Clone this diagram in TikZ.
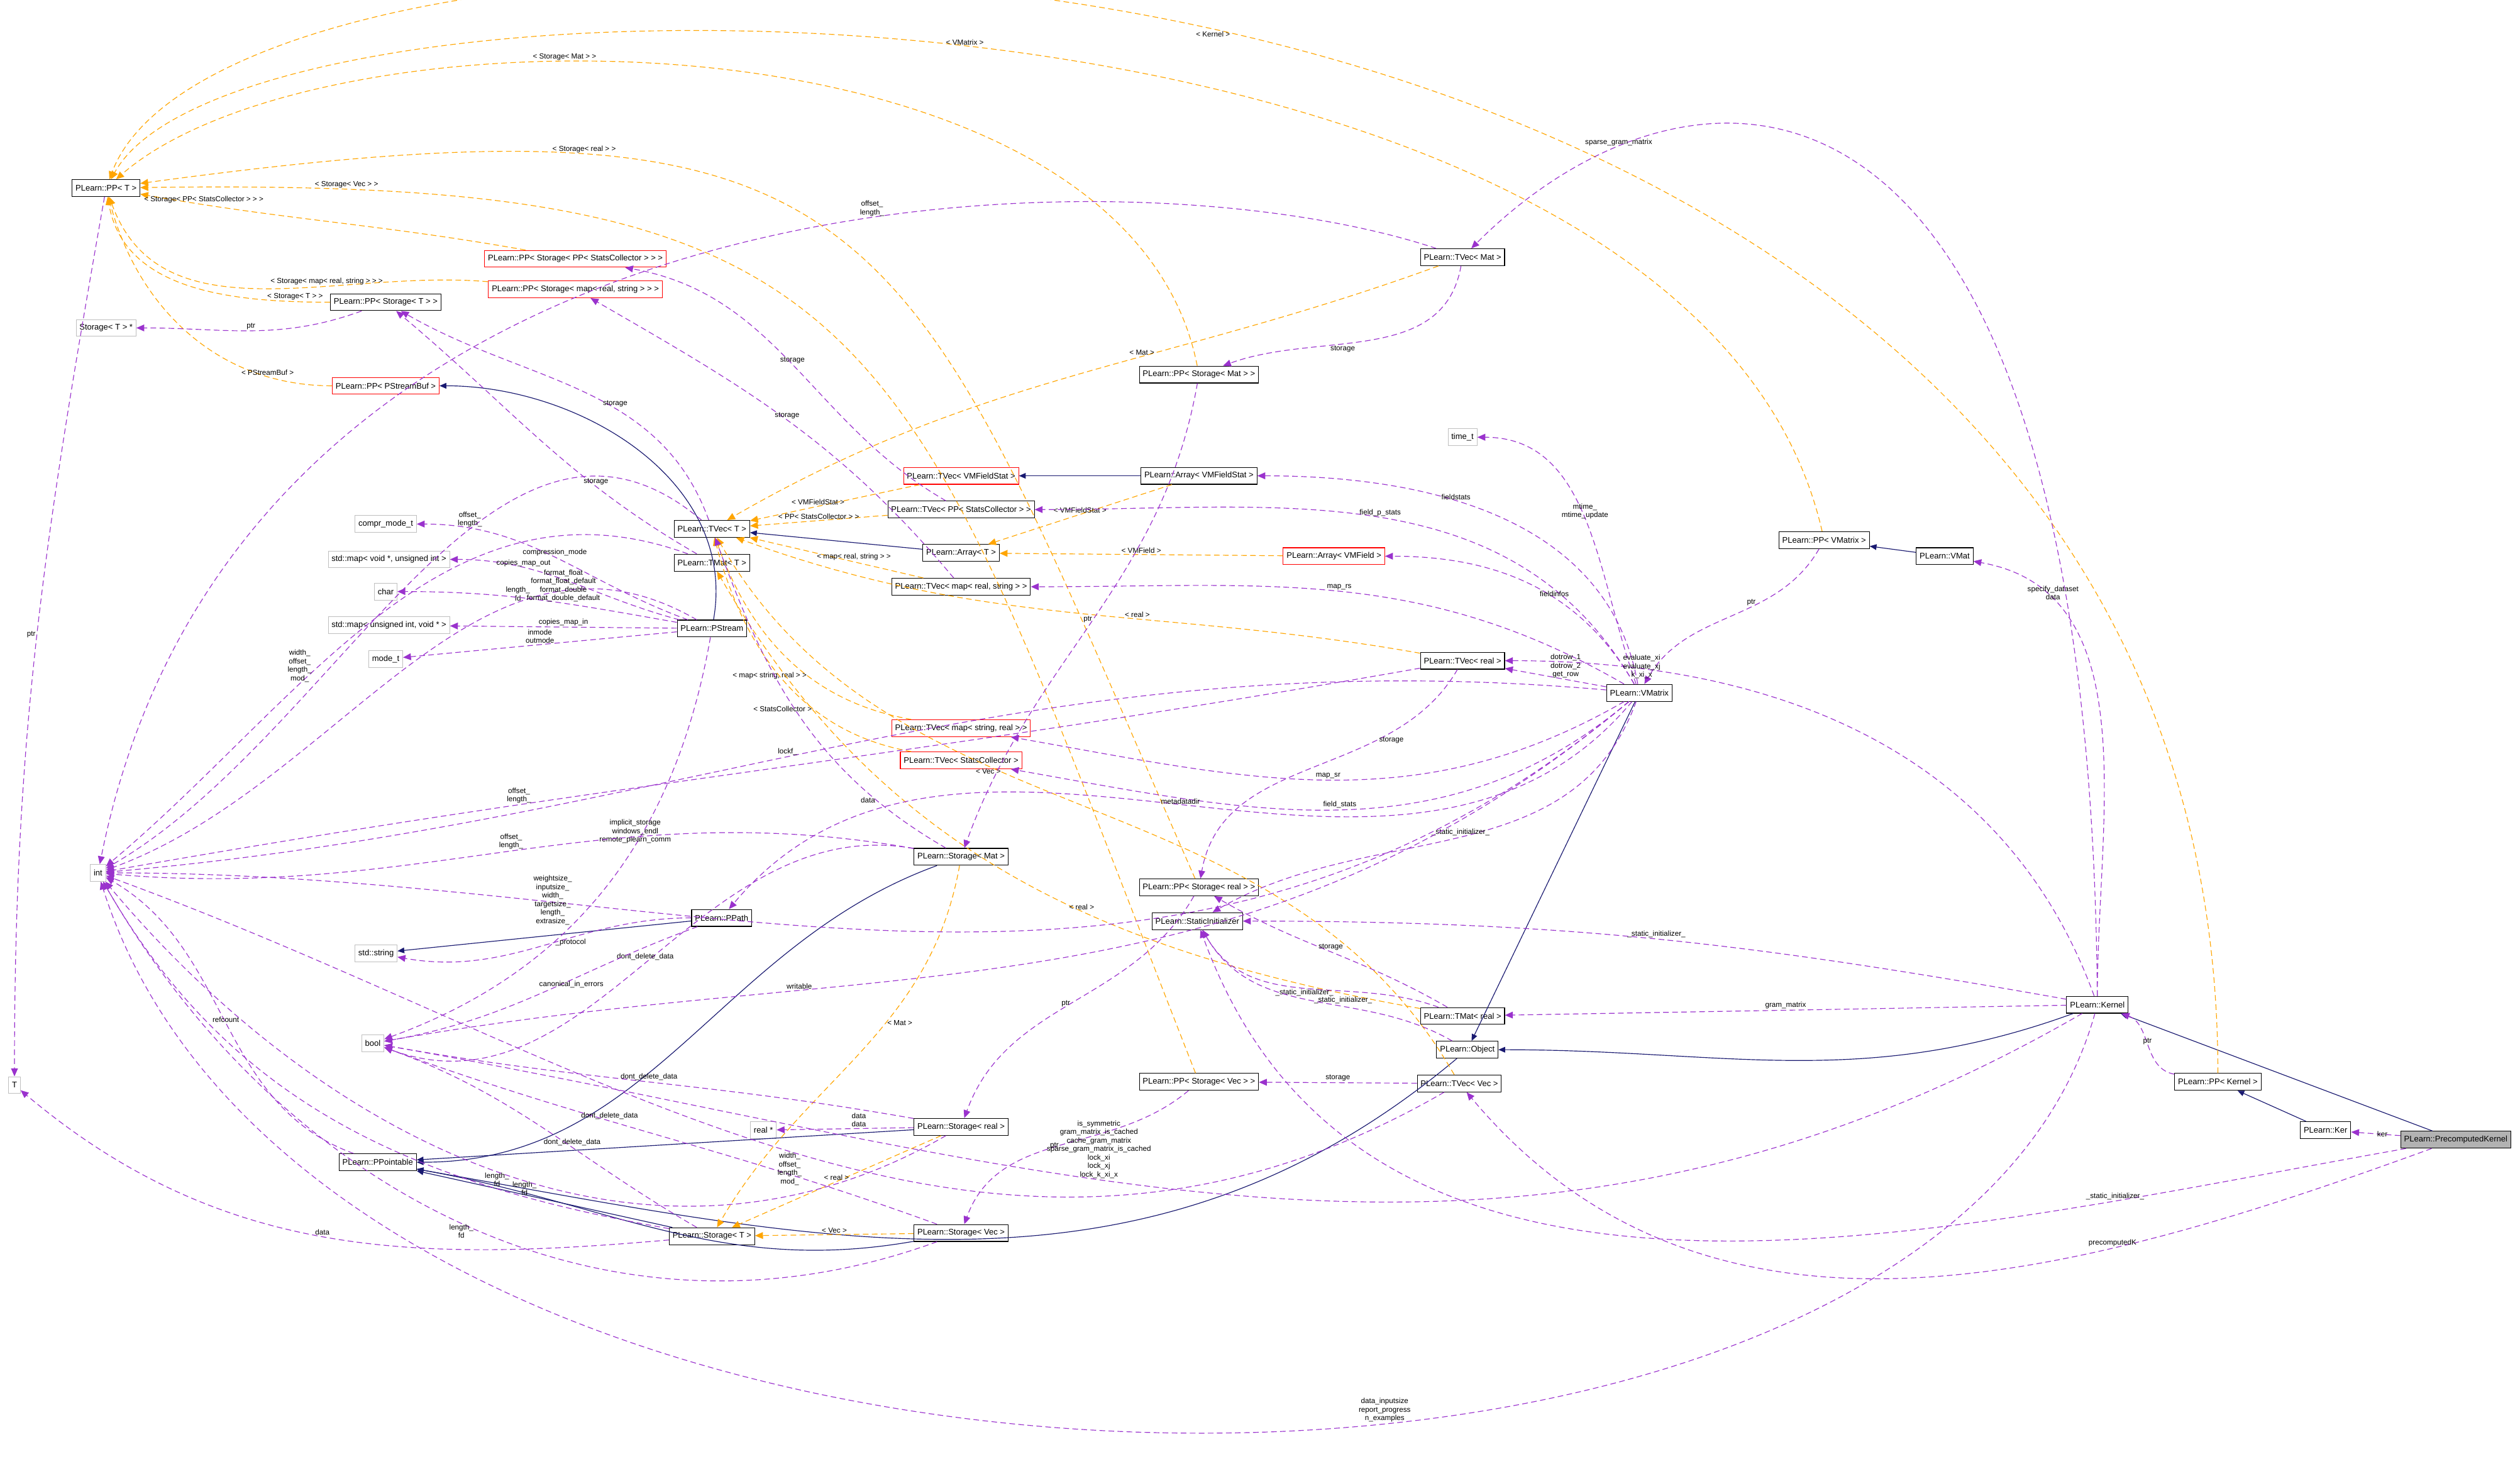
\documentclass[tikz,border=0pt]{standalone}
\usepackage{fontspec}
\setmainfont{Liberation Sans}
\usetikzlibrary{arrows.meta}
\definecolor{navy}{RGB}{25,25,112}
\definecolor{purp}{RGB}{154,50,205}
\definecolor{orng}{RGB}{255,165,0}
\begin{document}
\begin{tikzpicture}[x=0.02cm,y=-0.02cm,
  every node/.style={font=\fontsize{2.9}{3.1}\selectfont},
  cls/.style={draw=black,line width=0.24pt,fill=white,minimum height=0.21cm,inner xsep=1.2pt,inner ysep=0.5pt},
  red/.style={draw=red,line width=0.24pt,fill=white,minimum height=0.21cm,inner xsep=1.2pt,inner ysep=0.5pt},
  ext/.style={draw=gray!50,line width=0.2pt,fill=white,minimum height=0.21cm,inner xsep=1.2pt,inner ysep=0.5pt},
  cur/.style={draw=black,line width=0.24pt,fill=gray!60,minimum height=0.21cm,inner xsep=1.2pt,inner ysep=0.5pt},
  inh/.style={draw=navy,line width=0.26pt,-{Triangle[length=2.4pt,width=2pt]}},
  tpl/.style={draw=orng,line width=0.26pt,dash pattern=on 2pt off 1.2pt,-{Triangle[length=2.8pt,width=2.4pt]}},
  mem/.style={draw=purp,line width=0.26pt,dash pattern=on 2pt off 1.2pt,-{Triangle[length=2.8pt,width=2.4pt]}},
  lab/.style={fill=none,align=center,inner sep=0.4pt,font=\fontsize{2.6}{3}\selectfont}]
\useasboundingbox (0,0) rectangle (1568,918);
% nodes
\node[cls] (PPT) at (66,117) {PLearn::PP< T >};
\node[ext] (StT) at (66,204) {Storage< T > *};
\node[ext] (T) at (9,675) {T};
\node[ext] (int) at (61,543) {int};
\node[cls] (PPStT) at (240,188) {PLearn::PP< Storage< T > >};
\node[red] (PPBuf) at (240,240) {PLearn::PP< PStreamBuf >};
\node[red] (PPSPSC) at (358,161) {PLearn::PP< Storage< PP< StatsCollector > > >};
\node[red] (PPSMRS) at (358,180) {PLearn::PP< Storage< map< real, string > > >};
\node[ext] (compr) at (240,326) {compr\_mode\_t};
\node[ext] (mapvu) at (242,348) {std::map< void *, unsigned int >};
\node[ext] (char) at (240,368) {char};
\node[ext] (mapuv) at (242,389) {std::map< unsigned int, void * >};
\node[ext] (mode) at (240,410) {mode\_t};
\node[ext] (str) at (234,593) {std::string};
\node[ext] (bool) at (232,649) {bool};
\node[cls] (PPtr) at (235,723) {PLearn::PPointable};
\node[ext] (realp) at (475,703) {real *};
\node[cls] (TVecT) at (443,329) {PLearn::TVec< T >};
\node[cls] (TMatT) at (443,350) {PLearn::TMat< T >};
\node[cls] (PStream) at (443,391) {PLearn::PStream};
\node[cls] (PPath) at (449,571) {PLearn::PPath};
\node[cls] (StorT) at (443,769) {PLearn::Storage< T >};
\node[red] (TVFS) at (598,296) {PLearn::TVec< VMFieldStat >};
\node[cls] (TVPSC) at (598,317) {PLearn::TVec< PP< StatsCollector > >};
\node[cls] (ArrT) at (598,344) {PLearn::Array< T >};
\node[cls] (TVMRS) at (598,365) {PLearn::TVec< map< real, string > >};
\node[red] (TVMSR) at (598,453) {PLearn::TVec< map< string, real > >};
\node[red] (TVSC) at (598,473) {PLearn::TVec< StatsCollector >};
\node[cls] (StMat) at (598,533) {PLearn::Storage< Mat >};
\node[cls] (StReal) at (598,701) {PLearn::Storage< real >};
\node[cls] (StVec) at (598,767) {PLearn::Storage< Vec >};
\node[cls] (PPSMat) at (746,233) {PLearn::PP< Storage< Mat > >};
\node[cls] (AFS) at (746,296) {PLearn::Array< VMFieldStat >};
\node[red] (AF) at (830,346) {PLearn::Array< VMField >};
\node[cls] (PPSReal) at (746,552) {PLearn::PP< Storage< real > >};
\node[cls] (SI) at (745,573) {PLearn::StaticInitializer};
\node[cls] (PPSVec) at (746,673) {PLearn::PP< Storage< Vec > >};
\node[ext] (time) at (910,272) {time\_t};
\node[cls] (TVMat) at (910,160) {PLearn::TVec< Mat >};
\node[cls] (TVReal) at (910,411) {PLearn::TVec< real >};
\node[cls] (TMReal) at (910,632) {PLearn::TMat< real >};
\node[cls] (Obj) at (913,653) {PLearn::Object};
\node[cls] (TVVec) at (908,674) {PLearn::TVec< Vec >};
\node[cls] (VM) at (1020,431) {PLearn::VMatrix};
\node[cls] (PPVM) at (1135,336) {PLearn::PP< VMatrix >};
\node[cls] (VMat) at (1210,346) {PLearn::VMat};
\node[cls] (Kern) at (1305,625) {PLearn::Kernel};
\node[cls] (PPK) at (1380,673) {PLearn::PP< Kernel >};
\node[cls] (Ker) at (1447,703) {PLearn::Ker};
\node[cur] (PK) at (1528,709) {PLearn::PrecomputedKernel};
% inheritance
\draw[inh] (PStream) to[out=80,in=0] (PPBuf);
\draw[inh] (AFS) -- (TVFS);
\draw[inh] (ArrT) -- (TVecT);
\draw[inh] (PPath) -- (str);
\draw[inh] (StMat) to[out=200,in=0] (PPtr);
\draw[inh] (StReal) -- (PPtr);
\draw[inh] (StVec) to[out=190,in=-10] (PPtr);
\draw[inh] (StorT) -- (PPtr);
\draw[inh] (Obj) to[out=220,in=-10] (PPtr);
\draw[inh] (VM) -- (Obj);
\draw[inh] (Kern) to[out=200,in=0] (Obj);
\draw[inh] (VMat) -- (PPVM);
\draw[inh] (PK) -- (Kern);
\draw[inh] (Ker) -- (PPK);
% templates
\draw[tpl] (PPStT) to[out=180,in=-80] node[lab,above,pos=0.12]{< Storage< T > >} (PPT);
\draw[tpl] (PPBuf) to[out=180,in=-75] node[lab,above,pos=0.2]{< PStreamBuf >} (PPT);
\draw[tpl] (PPSPSC) to[out=170,in=-10] node[lab,pos=0.85,above]{< Storage< PP< StatsCollector > > >} (PPT);
\draw[tpl] (PPSMRS) to[out=175,in=-70] node[lab,pos=0.35,above]{< Storage< map< real, string > > >} (PPT);
\draw[tpl] (PPSMat) .. controls (700,0) and (200,0) .. node[lab,above,pos=0.6]{< Storage< Mat > >} (PPT);
\draw[tpl] (PPSReal) .. controls (560,130) and (560,50) .. node[lab,above,pos=0.75]{< Storage< real > >} (PPT);
\draw[tpl] (PPSVec) .. controls (560,200) and (560,110) .. node[lab,above,pos=0.9]{< Storage< Vec > >} (PPT);
\draw[tpl] (PPVM) .. controls (1050,-35) and (150,-35) .. node[lab,above,pos=0.5]{< VMatrix >} (PPT);
\draw[tpl] (PPK) .. controls (1380,-105) and (150,-105) .. node[lab,below,pos=0.5]{< Kernel >} (PPT);
\draw[tpl] (TVFS) -- node[lab,above,pos=0.6]{< VMFieldStat >} (TVecT);
\draw[tpl] (TVPSC) -- node[lab,above,pos=0.5]{< PP< StatsCollector > >} (TVecT);
\draw[tpl] (TVMRS) -- node[lab,above,pos=0.4]{< map< real, string > >} (TVecT);
\draw[tpl] (TVMSR) to[out=170,in=-70] node[lab,pos=0.4,left]{< map< string, real > >} (TVecT);
\draw[tpl] (TVSC) to[out=170,in=-75] node[lab,pos=0.35,left]{< StatsCollector >} (TVecT);
\draw[tpl] (TVMat) to[out=200,in=30] node[lab,above,pos=0.4]{< Mat >} (TVecT);
\draw[tpl] (TVReal) to[out=170,in=-20] node[lab,above,pos=0.4]{< real >} (TVecT);
\draw[tpl] (TVVec) to[out=120,in=-60] node[lab,pos=0.6,left]{< Vec >} (TVecT);
\draw[tpl] (AF) -- node[lab,above,pos=0.5]{< VMField >} (ArrT);
\draw[tpl] (AFS) -- node[lab,above,pos=0.5]{< VMFieldStat >} (ArrT);
\draw[tpl] (TMReal) to[out=170,in=-60] node[lab,above,pos=0.4]{< real >} (TMatT);
\draw[tpl] (StMat) to[out=-100,in=60] node[lab,pos=0.4,right]{< Mat >} (StorT);
\draw[tpl] (StReal) -- node[lab,above,pos=0.5]{< real >} (StorT);
\draw[tpl] (StVec) -- node[lab,above,pos=0.5]{< Vec >} (StorT);
% members
\draw[mem] (PPT) to[out=-100,in=90] node[lab,left,pos=0.5]{ptr} (T);
\draw[mem] (PPStT) to[out=-160,in=0] node[lab,above]{ptr} (StT);
\draw[mem] (TVecT) to[out=110,in=-30] node[lab,above,pos=0.4]{storage} (PPStT);
\draw[mem] (TVecT) to[out=140,in=30] node[lab,above,pos=0.4]{offset\_\\length\_} (int);
\draw[mem] (TMatT) to[out=150,in=-40] node[lab,above,pos=0.3]{storage} (PPStT);
\draw[mem] (TMatT) to[out=160,in=40] node[lab,above,pos=0.65]{width\_\\offset\_\\length\_\\mod\_} (int);
\draw[mem] (TVPSC) to[out=150,in=-10] node[lab,above,pos=0.5]{storage} (PPSPSC);
\draw[mem] (TVMRS) to[out=130,in=-30] node[lab,above,pos=0.5]{storage} (PPSMRS);
\draw[mem] (PStream) to[out=150,in=20] node[lab,above,pos=0.3]{length\_\\fd} (int);
\draw[mem] (PStream) to[out=160,in=0] node[lab,above,pos=0.5]{compression\_mode} (compr);
\draw[mem] (PStream) to[out=165,in=0] node[lab,above,pos=0.7]{copies\_map\_out} (mapvu);
\draw[mem] (PStream) to[out=170,in=0] node[lab,above,pos=0.4]{format\_float\\format\_float\_default\\format\_double\\format\_double\_default} (char);
\draw[mem] (PStream) -- node[lab,above,pos=0.5]{copies\_map\_in} (mapuv);
\draw[mem] (PStream) -- node[lab,above,pos=0.5]{inmode\\outmode} (mode);
\draw[mem] (PStream) to[out=-100,in=20] node[lab,above,pos=0.4]{implicit\_storage\\windows\_endl\\remote\_plearn\_comm} (bool);
\draw[mem] (PPtr) to[out=160,in=-30] node[lab,above,pos=0.5]{refcount} (int);
\draw[mem] (StorT) to[out=170,in=-60] node[lab,above,pos=0.2]{length\_\\fd} (int);
\draw[mem] (StorT) to[out=150,in=-20] node[lab,above,pos=0.4]{dont\_delete\_data} (bool);
\draw[mem] (StorT) to[out=185,in=-40] node[lab,above,pos=0.5]{data} (T);
\draw[mem] (StReal) -- node[lab,above,pos=0.4]{data\\data} (realp);
\draw[mem] (StReal) to[out=170,in=-10] node[lab,above,pos=0.5]{dont\_delete\_data} (bool);
\draw[mem] (StReal) to[out=-150,in=-50] node[lab,below,pos=0.5]{length\_\\fd} (int);
\draw[mem] (StVec) to[out=160,in=-20] node[lab,above,pos=0.6]{dont\_delete\_data} (bool);
\draw[mem] (StVec) to[out=-160,in=-60] node[lab,below,pos=0.5]{length\_\\fd} (int);
\draw[mem] (StMat) to[out=170,in=-20] node[lab,above,pos=0.5]{dont\_delete\_data} (bool);
\draw[mem] (StMat) to[out=170,in=-5] node[lab,above,pos=0.5]{offset\_\\length\_} (int);
\draw[mem] (StMat) to[out=150,in=-70] node[lab,left,pos=0.2]{data} (TVecT);
\draw[mem] (PPath) to[out=180,in=-10] node[lab,below,pos=0.4]{\_protocol} (str);
\draw[mem] (PPath) to[out=200,in=10] node[lab,below,pos=0.4]{canonical\_in\_errors} (bool);
\draw[mem] (TVMat) to[out=-100,in=20] node[lab,below,pos=0.6]{storage} (PPSMat);
\draw[mem] (TVMat) .. controls (700,90) and (150,100) .. node[lab,above,pos=0.4]{offset\_\\length\_} (int);
\draw[mem] (TVReal) to[out=-120,in=80] node[lab,right,pos=0.3]{storage} (PPSReal);
\draw[mem] (TVReal) to[out=190,in=10] node[lab,above,pos=0.7]{offset\_\\length\_} (int);
\draw[mem] (TVVec) -- node[lab,above,pos=0.5]{storage} (PPSVec);
\draw[mem] (TVVec) to[out=-150,in=-20] node[lab,below,pos=0.5]{width\_\\offset\_\\length\_\\mod\_} (int);
\draw[mem] (TMReal) to[out=150,in=-30] node[lab,above,pos=0.5]{storage} (PPSReal);
\draw[mem] (TMReal) to[out=160,in=-60] node[lab,below,pos=0.5]{\_static\_initializer\_} (SI);
\draw[mem] (PPSMat) to[out=-100,in=70] node[lab,left,pos=0.5]{ptr} (StMat);
\draw[mem] (PPSReal) to[out=-120,in=70] node[lab,left,pos=0.5]{ptr} (StReal);
\draw[mem] (PPSVec) to[out=-140,in=70] node[lab,left,pos=0.5]{ptr} (StVec);
\draw[mem] (Obj) to[out=150,in=-60] node[lab,right,pos=0.5]{\_static\_initializer\_} (SI);
\draw[mem] (VM) to[out=110,in=0] node[lab,above,pos=0.5]{mtime\_\\mtime\_update} (time);
\draw[mem] (VM) to[out=100,in=0] node[lab,above,pos=0.6]{fieldstats} (AFS);
\draw[mem] (VM) to[out=120,in=0] node[lab,above,pos=0.5]{field\_p\_stats} (TVPSC);
\draw[mem] (VM) to[out=120,in=0] node[lab,above,pos=0.4]{fieldinfos} (AF);
\draw[mem] (VM) to[out=150,in=0] node[lab,above,pos=0.5]{map\_rs} (TVMRS);
\draw[mem] (VM) -- node[lab,above,pos=0.4]{dotrow\_1\\dotrow\_2\\get\_row} (TVReal);
\draw[mem] (VM) to[out=175,in=5] node[lab,above,pos=0.55]{lockf\_} (int);
\draw[mem] (VM) to[out=-150,in=-10] node[lab,above,pos=0.5]{map\_sr} (TVMSR);
\draw[mem] (VM) to[out=-140,in=-10] node[lab,above,pos=0.5]{field\_stats} (TVSC);
\draw[mem] (VM) to[out=-130,in=50] node[lab,above,pos=0.5]{metadatadir} (PPath);
\draw[mem] (VM) to[out=-110,in=30] node[lab,above,pos=0.5]{\_static\_initializer\_} (SI);
\draw[mem] (VM) to[out=-140,in=0] node[lab,right,pos=0.75]{weightsize\_\\inputsize\_\\width\_\\targetsize\_\\length\_\\extrasize\_} (int);
\draw[mem] (VM) to[out=-140,in=10] node[lab,above,pos=0.7]{writable} (bool);
\draw[mem] (PPVM) to[out=-120,in=60] node[lab,above,pos=0.4]{ptr} (VM);
\draw[mem] (Kern) to[out=90,in=-10] node[lab,above,pos=0.8]{specify\_dataset\\data} (VMat);
\draw[mem] (Kern) to[out=110,in=0] node[lab,right,pos=0.85]{evaluate\_xi\\evaluate\_xj\\k\_xi\_x} (TVReal);
\draw[mem] (Kern) .. controls (1300,0) and (1050,20) .. node[lab,above,pos=0.8]{sparse\_gram\_matrix} (TVMat);
\draw[mem] (Kern) -- node[lab,above,pos=0.5]{gram\_matrix} (TMReal);
\draw[mem] (Kern) to[out=170,in=0] node[lab,above,pos=0.5]{\_static\_initializer\_} (SI);
\draw[mem] (Kern) to[out=-150,in=-10] node[lab,above,pos=0.6]{is\_symmetric\\gram\_matrix\_is\_cached\\cache\_gram\_matrix\\sparse\_gram\_matrix\_is\_cached\\lock\_xi\\lock\_xj\\lock\_k\_xi\_x} (bool);
\draw[mem] (Kern) .. controls (1200,1000) and (200,980) .. node[lab,above,pos=0.4]{data\_inputsize\\report\_progress\\n\_examples} (int);
\draw[mem] (PPK) to[out=170,in=-20] node[lab,above,pos=0.5]{ptr} (Kern);
\draw[mem] (PK) -- node[lab,right,pos=0.5]{ker} (Ker);
\draw[mem] (PK) to[out=-160,in=-50] node[lab,above,pos=0.3]{precomputedK} (TVVec);
\draw[mem] (PK) to[out=-170,in=-70] node[lab,above,pos=0.2]{\_static\_initializer\_} (SI);
\end{tikzpicture}
\end{document}
